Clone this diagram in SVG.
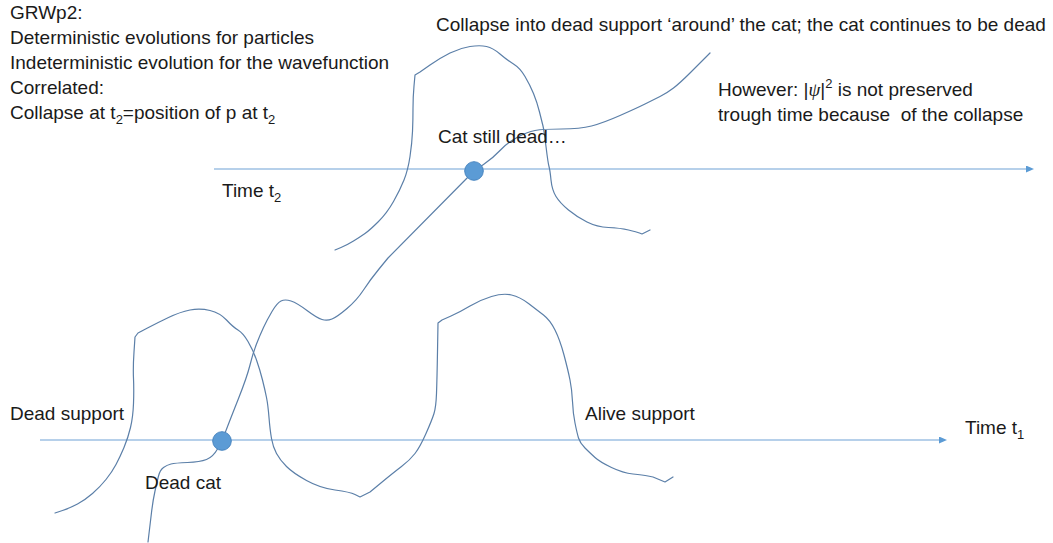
<svg xmlns="http://www.w3.org/2000/svg" width="1053" height="543" viewBox="0 0 1053 543">
  <defs>
    <marker id="arrow" markerUnits="userSpaceOnUse" markerWidth="9" markerHeight="8" refX="0" refY="3.5" orient="auto">
      <path d="M0,0 L8,3.5 L0,7 z" fill="#5B9BD5"/>
    </marker>
    <style>
      text { font-family: "Liberation Sans", Arial, sans-serif; font-size: 19px; fill: #1a1a1a; white-space: pre; }
      .sub { font-size: 13px; }
      .axis { stroke: #6FA2D6; stroke-width: 1.2; fill: none; }
      .wave { stroke: #5B7FA8; stroke-width: 1.2; fill: none; stroke-linejoin: round; stroke-linecap: round; }
      .dot { fill: #5B9BD5; stroke: #4A86C0; stroke-width: 1; }
    </style>
  </defs>
  <rect width="1053" height="543" fill="#ffffff"/>

  <!-- time axes -->
  <g id="connectors">
    <line class="axis" x1="214" y1="169" x2="1026" y2="169" marker-end="url(#arrow)"/>
    <line class="axis" x1="40" y1="440" x2="939" y2="440" marker-end="url(#arrow)"/>
  </g>

  <!-- wavefunction supports -->
  <g id="waves">
    <path id="wave-t2" class="wave" d="M335,250 L341,247.5 Q347,245 353.5,241 Q360,237 365,233.5 Q370,230 378.5,221.5 Q387,213 393.5,201.5 Q400,190 404,180 Q408,170 410,156.5 Q412,143 412.5,131.5 Q413,120 413,108.5 Q413,97 414,86 L415,75 L420,72 L430,65 Q440,58 450,53 Q460,48 470,46.5 Q480,45 486.5,46.5 Q493,48 500,54 Q507,60 513.5,64 Q520,68 525,76.5 Q530,85 533.5,93.5 Q537,102 539.5,112 Q542,122 543,126 Q544,130 546,146.5 Q548,163 549,166.5 Q550,170 551,180 Q552,190 556,196.5 Q560,203 568.5,210 Q577,217 587,222 Q597,227 608.5,227.5 Q620,228 628.5,230 Q637,232 639.5,233 L642,234 L650,230"/>
    <path id="wave-t1" class="wave" d="M55,513 L62.5,510.5 Q70,508 77.5,504 Q85,500 92.5,493.5 Q100,487 106,479.5 Q112,472 116,464.5 Q120,457 124,447.5 Q128,438 130.5,427.5 Q133,417 133.5,403.5 Q134,390 133.5,378.5 Q133,367 134,352 L135,337 L138,333 L147.5,328 Q157,323 168.5,317.5 Q180,312 190,310 Q200,308 210,310.5 Q220,313 226.5,320 Q233,327 238,330 Q243,333 248,341.5 Q253,350 256.5,360 Q260,370 262.5,380 Q265,390 266.5,397.5 Q268,405 269,417.5 Q270,430 271.5,438.5 Q273,447 276.5,453.5 Q280,460 286.5,466.5 Q293,473 306.5,480.5 Q320,488 335,490 Q350,492 355,494.5 L360,497 L370,492 L381.5,482.5 Q393,473 401.5,466.5 Q410,460 415,453.5 Q420,447 426,433.5 Q432,420 434,413.5 Q436,407 436.5,393.5 Q437,380 437.5,351.5 L438,323 L442,320 L451,316 Q460,312 470,306 Q480,300 491.5,296.5 Q503,293 511.5,295 Q520,297 528.5,303.5 Q537,310 543.5,315 Q550,320 555,330 Q560,340 564,355 Q568,370 570,380 Q572,390 572.5,401.5 Q573,413 575,423 Q577,433 578.5,438 Q580,443 585,448 Q590,453 595,457.5 Q600,462 611.5,467.5 Q623,473 633,474 Q643,475 648,476 L653,477 L665,482 L673,477"/>
  </g>

  <!-- particle trajectory -->
  <g id="trajectory">
    <path class="wave" d="M148,542 L149,533.5 Q150,525 151.5,512.5 Q153,500 155,491 Q157,482 158.5,476 Q160,470 163.5,467.5 Q167,465 171,464 Q175,463 187.5,462.5 Q200,462 206.5,459.5 Q213,457 217.5,449 Q222,441 226,430.5 Q230,420 238.5,398.5 Q247,377 250,365 Q253,353 256.5,344 Q260,335 263.5,327.5 Q267,320 272,311.5 Q277,303 281,301 Q285,299 291,301 Q297,303 307,310.5 Q317,318 322,319.5 Q327,321 332,319 Q337,317 347,308.5 Q357,300 363.5,290 Q370,280 379,269 L388,258 L474,171 L483.5,164.5 Q493,158 500,150.5 Q507,143 517,137.5 Q527,132 535,130.5 Q543,129 561.5,129 Q580,129 591.5,126 Q603,123 620,115.5 Q637,108 645,104 Q653,100 660,96.5 Q667,93 673.5,88 Q680,83 690,73 Q700,63 705,58 L710,53"/>
  </g>

  <!-- particle positions -->
  <g id="cat-t1"><circle class="dot" cx="222" cy="441" r="9.3"/></g>
  <g id="cat-t2"><circle class="dot" cx="474" cy="171" r="9.3"/></g>

  <!-- explanatory notes -->
  <g id="notes">
    <text x="10" y="19">GRWp2:</text>
    <text x="10" y="44">Deterministic evolutions for particles</text>
    <text x="10" y="69">Indeterministic evolution for the wavefunction</text>
    <text x="10" y="94">Correlated:</text>
    <text x="10" y="119">Collapse at t<tspan class="sub" dy="5">2</tspan><tspan dy="-5">=position of p at t</tspan><tspan class="sub" dy="5">2</tspan></text>
    <text x="436" y="31">Collapse into dead support ‘around’ the cat; the cat continues to be dead</text>
    <text x="718" y="96">However: |<tspan font-style="italic" font-family="Liberation Serif, serif">ψ</tspan>|<tspan class="sub" dy="-8">2</tspan><tspan dy="8"> is not preserved</tspan></text>
    <text x="718" y="121" xml:space="preserve">trough time because  of the collapse</text>
  </g>

  <!-- labels -->
  <g id="labels">
    <text x="438" y="143">Cat still dead…</text>
    <text x="222" y="197">Time t<tspan class="sub" dy="5">2</tspan></text>
    <text x="10" y="420">Dead support</text>
    <text x="145" y="489">Dead cat</text>
    <text x="585" y="420">Alive support</text>
    <text x="965" y="434">Time t<tspan class="sub" dy="5">1</tspan></text>
  </g>
</svg>
